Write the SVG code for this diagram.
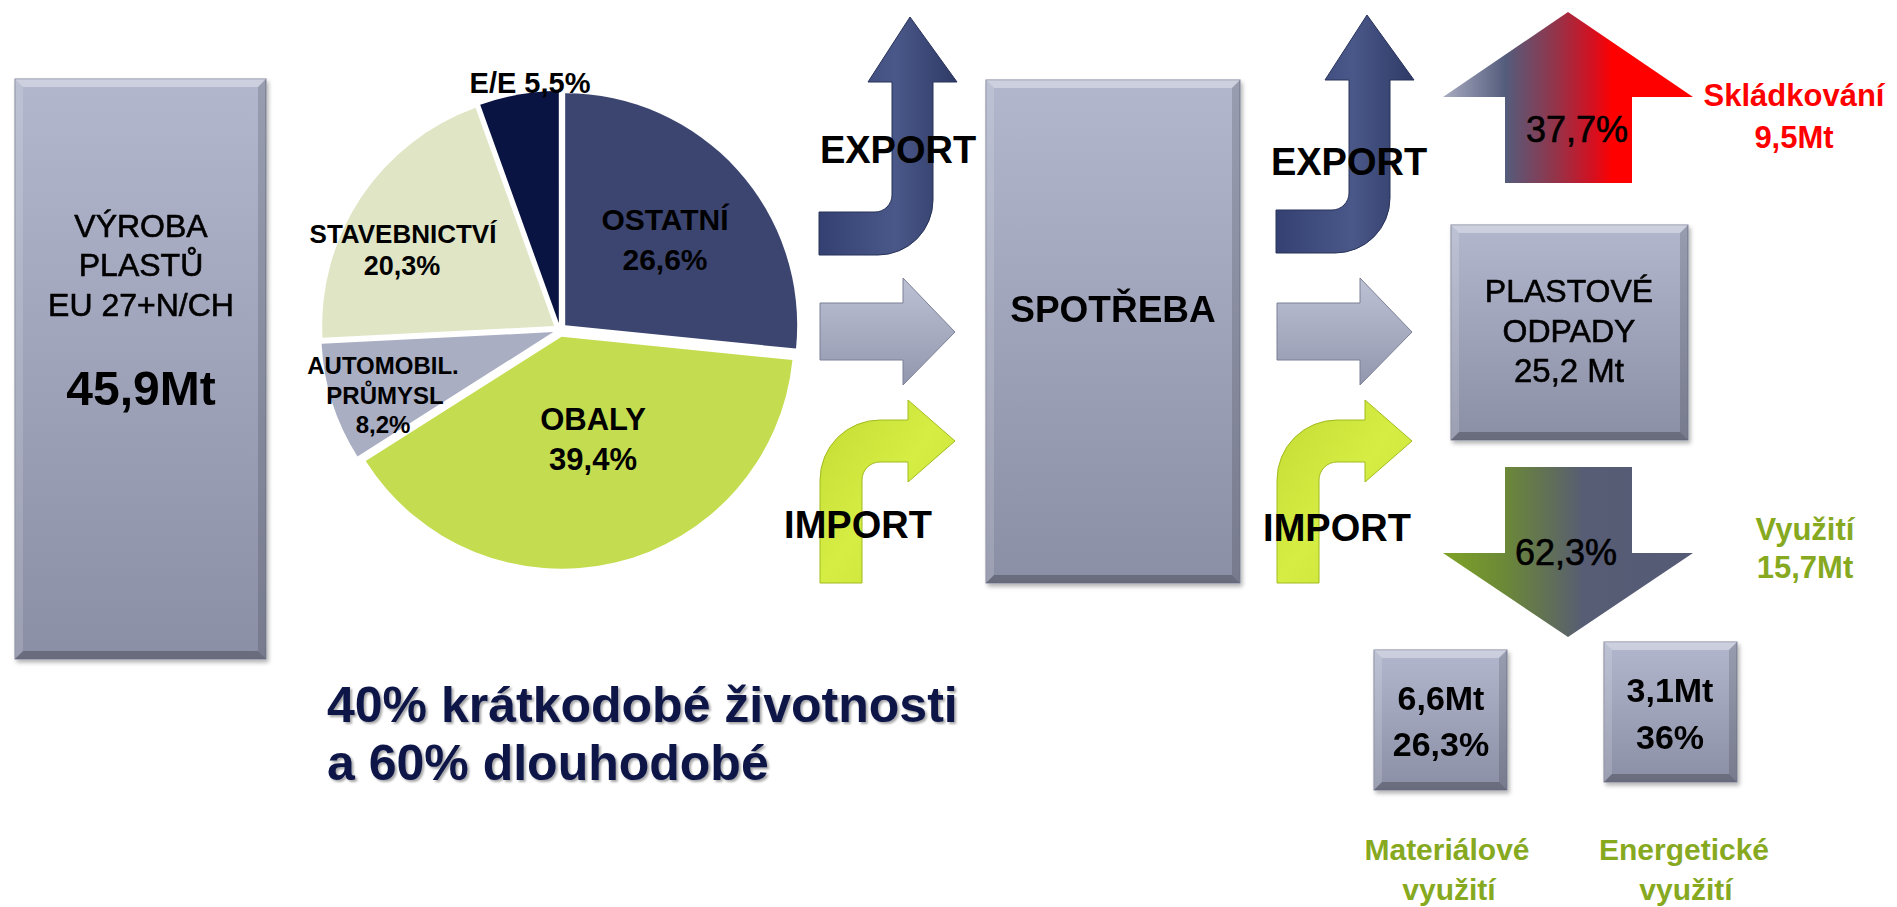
<svg xmlns="http://www.w3.org/2000/svg" width="1897" height="907" viewBox="0 0 1897 907">
<defs>
<style>
text{font-family:"Liberation Sans",Arial,"Noto Sans",sans-serif;fill:#000;text-anchor:middle}
.b{font-weight:bold}
.m{stroke:#000;stroke-width:0.6}
.hl{fill:#fff;opacity:.35}
.hl2{fill:#fff;opacity:.15}
.sh{fill:#000;opacity:.14}
.sh2{fill:#000;opacity:.24}
.box{fill:url(#gBox);stroke:#80849a;stroke-width:1}
.blue{fill:url(#gBlue);stroke:#283259;stroke-width:1}
.grey{fill:url(#gGrey);stroke:#7b8096;stroke-width:1}
.green{fill:url(#gGreen);stroke:#a3bb1e;stroke-width:1}
.grn{fill:#86a91f;font-weight:bold}
.red{fill:#ff0000;font-weight:bold}
</style>
<linearGradient id="gBox" x1="0" y1="0" x2="0" y2="1"><stop offset="0" stop-color="#b2b7cd"/><stop offset="1" stop-color="#8b8fa5"/></linearGradient>
<linearGradient id="gBlue" x1="0" y1="0" x2="1" y2="0"><stop offset="0" stop-color="#344072"/><stop offset="0.55" stop-color="#4a5889"/><stop offset="1" stop-color="#2f3a66"/></linearGradient>
<linearGradient id="gGrey" x1="0" y1="0" x2="0" y2="1"><stop offset="0" stop-color="#bcc1d4"/><stop offset="1" stop-color="#9397ae"/></linearGradient>
<linearGradient id="gGreen" x1="0" y1="0" x2="1" y2="1"><stop offset="0" stop-color="#c2da32"/><stop offset="0.5" stop-color="#d6ee44"/><stop offset="1" stop-color="#c6de34"/></linearGradient>
<linearGradient id="gRed" gradientUnits="userSpaceOnUse" x1="1443" y1="0" x2="1693" y2="0"><stop offset="0" stop-color="#a9adc2"/><stop offset="0.25" stop-color="#545c7c"/><stop offset="0.45" stop-color="#93344a"/><stop offset="0.6" stop-color="#d41020"/><stop offset="0.68" stop-color="#ff0000"/><stop offset="1" stop-color="#ff0000"/></linearGradient>
<linearGradient id="gDown" gradientUnits="userSpaceOnUse" x1="1443" y1="0" x2="1693" y2="0"><stop offset="0" stop-color="#7ea325"/><stop offset="0.25" stop-color="#6b8838"/><stop offset="0.45" stop-color="#5f6c5c"/><stop offset="0.56" stop-color="#575d74"/><stop offset="1" stop-color="#555a76"/></linearGradient>
<filter id="ts" x="-10%" y="-10%" width="120%" height="130%"><feDropShadow dx="2" dy="2" stdDeviation="1" flood-color="#000" flood-opacity="0.35"/></filter>
<filter id="ds" x="-5%" y="-5%" width="115%" height="115%"><feDropShadow dx="2" dy="3" stdDeviation="2" flood-color="#000" flood-opacity="0.3"/></filter>
<path id="aExport" d="M910,17 L957,82 L933,82 L933,200 A55,55 0 0 1 878,255 L819,255 L819,212 L875,212 A17,17 0 0 0 892,195 L892,82 L868,82 Z"/>
<path id="aStraight" d="M820,303 L903,303 L903,278 L955,332 L903,385 L903,360 L820,360 Z"/>
<path id="aImport" d="M820,583 L820,480 A60,60 0 0 1 880,420 L908,420 L908,400 L955,441 L908,482 L908,462 L880,462 A18,18 0 0 0 862,480 L862,583 Z"/>
</defs>
<rect width="1897" height="907" fill="#fff"/>

<g id="vyroba" filter="url(#ds)">
<rect class="box" x="15" y="79" width="251" height="580"/>
<polygon class="hl" points="15,79 266,79 258,87 23,87"/>
<polygon class="hl2" points="15,79 23,87 23,651 15,659"/>
<polygon class="sh" points="266,79 266,659 258,651 258,87"/>
<polygon class="sh2" points="15,659 266,659 258,651 23,651"/>
<text x="141" y="237" font-size="32" class="m">VÝROBA</text>
<text x="141" y="276" font-size="32" class="m">PLASTŮ</text>
<text x="141" y="316" font-size="32" class="m">EU 27+N/CH</text>
<text x="141" y="405" font-size="48" class="b">45,9Mt</text>
</g>

<g id="pie">
<path d="M565.19,325.31 L565.19,93.31 A232,232 0 0 1 796.02,348.59 Z" fill="#3c456f"/>
<path d="M561.61,336.81 L792.44,360.09 A232,232 0 0 1 365.73,461.12 Z" fill="#c4dc4f"/>
<path d="M553.33,332.12 L357.45,456.43 A232,232 0 0 1 321.62,343.78 Z" fill="#a9aec3"/>
<path d="M554.17,326.12 L322.46,337.78 A232,232 0 0 1 475.58,107.84 Z" fill="#e0e6c5"/>
<path d="M558.80,323.10 L480.21,104.82 A232,232 0 0 1 558.80,91.10 Z" fill="#0a1443"/>
<text x="530" y="93" font-size="29" class="b">E/E 5,5%</text>
<text x="665" y="230" font-size="30" class="b">OSTATNÍ</text>
<text x="665" y="270" font-size="30" class="b">26,6%</text>
<text x="403" y="243" font-size="26" class="b">STAVEBNICTVÍ</text>
<text x="402" y="275" font-size="27" class="b">20,3%</text>
<text x="383" y="374" font-size="24" class="b">AUTOMOBIL.</text>
<text x="385" y="404" font-size="24" class="b">PRŮMYSL</text>
<text x="383" y="433" font-size="24" class="b">8,2%</text>
<text x="593" y="430" font-size="31" class="b">OBALY</text>
<text x="593" y="470" font-size="31" class="b">39,4%</text>
</g>

<g id="flows1">
<use href="#aExport" class="blue"/>
<use href="#aStraight" class="grey"/>
<use href="#aImport" class="green"/>
<text x="898" y="163" font-size="38" class="b">EXPORT</text>
<text x="858" y="538" font-size="38" class="b">IMPORT</text>
</g>

<g id="spotreba" filter="url(#ds)">
<rect class="box" x="986" y="80" width="254" height="503"/>
<polygon class="hl" points="986,80 1240,80 1232,88 994,88"/>
<polygon class="hl2" points="986,80 994,88 994,575 986,583"/>
<polygon class="sh" points="1240,80 1240,583 1232,575 1232,88"/>
<polygon class="sh2" points="986,583 1240,583 1232,575 994,575"/>
<text x="1113" y="322" font-size="37" class="b">SPOTŘEBA</text>
</g>

<g id="flows2">
<use href="#aExport" class="blue" transform="translate(457,-2)"/>
<use href="#aStraight" class="grey" transform="translate(457,0)"/>
<use href="#aImport" class="green" transform="translate(457,0)"/>
<text x="1349" y="175" font-size="38" class="b">EXPORT</text>
<text x="1337" y="541" font-size="38" class="b">IMPORT</text>
</g>

<g id="skladkovani">
<path d="M1568,12 L1693,97 L1632,97 L1632,183 L1505,183 L1505,97 L1443,97 Z" fill="url(#gRed)"/>
<text x="1577" y="142" font-size="36" class="m">37,7%</text>
<text x="1794" y="106" font-size="31" class="red">Skládkování</text>
<text x="1794" y="148" font-size="31" class="red">9,5Mt</text>
</g>

<g id="odpady" filter="url(#ds)">
<rect class="box" x="1451" y="225" width="237" height="215"/>
<polygon class="hl" points="1451,225 1688,225 1680,233 1459,233"/>
<polygon class="hl2" points="1451,225 1459,233 1459,432 1451,440"/>
<polygon class="sh" points="1688,225 1688,440 1680,432 1680,233"/>
<polygon class="sh2" points="1451,440 1688,440 1680,432 1459,432"/>
<text x="1569" y="302" font-size="32" class="m">PLASTOVÉ</text>
<text x="1569" y="342" font-size="32" class="m">ODPADY</text>
<text x="1569" y="382" font-size="33" class="m">25,2 Mt</text>
</g>

<g id="vyuziti">
<path d="M1505,467 L1632,467 L1632,553 L1693,553 L1568,637 L1443,553 L1505,553 Z" fill="url(#gDown)"/>
<text x="1566" y="565" font-size="36" class="m">62,3%</text>
<text x="1805" y="540" font-size="31" class="grn">Využití</text>
<text x="1805" y="578" font-size="31" class="grn">15,7Mt</text>
</g>

<g id="materialove" filter="url(#ds)">
<rect class="box" x="1374" y="650" width="133" height="140"/>
<polygon class="hl" points="1374,650 1507,650 1499,658 1382,658"/>
<polygon class="hl2" points="1374,650 1382,658 1382,782 1374,790"/>
<polygon class="sh" points="1507,650 1507,790 1499,782 1499,658"/>
<polygon class="sh2" points="1374,790 1507,790 1499,782 1382,782"/>
<text x="1441" y="710" font-size="34" class="b">6,6Mt</text>
<text x="1441" y="756" font-size="34" class="b">26,3%</text>
</g>

<g id="energeticke" filter="url(#ds)">
<rect class="box" x="1604" y="642" width="133" height="140"/>
<polygon class="hl" points="1604,642 1737,642 1729,650 1612,650"/>
<polygon class="hl2" points="1604,642 1612,650 1612,774 1604,782"/>
<polygon class="sh" points="1737,642 1737,782 1729,774 1729,650"/>
<polygon class="sh2" points="1604,782 1737,782 1729,774 1612,774"/>
<text x="1670" y="702" font-size="34" class="b">3,1Mt</text>
<text x="1670" y="749" font-size="34" class="b">36%</text>
</g>

<g id="labels">
<text x="1447" y="860" font-size="30" class="grn">Materiálové</text>
<text x="1449" y="900" font-size="30" class="grn">využití</text>
<text x="1684" y="860" font-size="30" class="grn">Energetické</text>
<text x="1686" y="900" font-size="30" class="grn">využití</text>
</g>

<g id="note" filter="url(#ts)">
<text x="327" y="722" font-size="50" class="b" style="text-anchor:start;fill:#0b1446">40% krátkodobé životnosti</text>
<text x="327" y="780" font-size="50" class="b" style="text-anchor:start;fill:#0b1446">a 60% dlouhodobé</text>
</g>
</svg>
